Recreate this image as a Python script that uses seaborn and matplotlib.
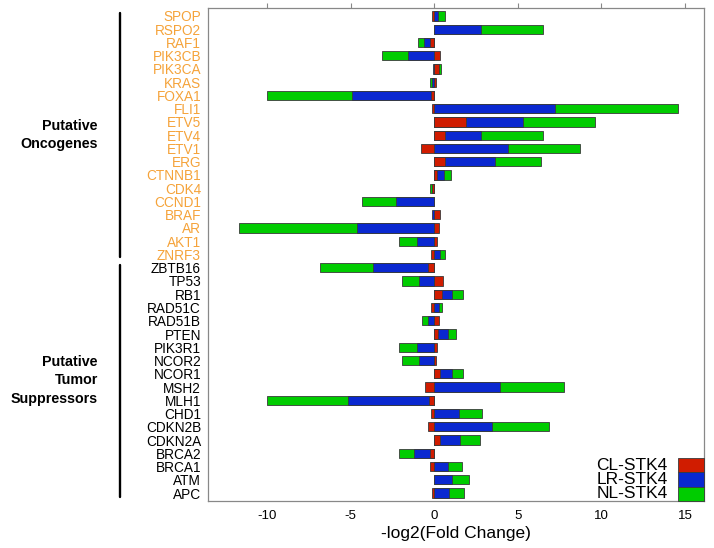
import numpy as np
import matplotlib
matplotlib.use("Agg")
import matplotlib.pyplot as plt
import matplotlib.transforms as mtransforms
from matplotlib.patches import Rectangle
import seaborn as sns

genes = ["SPOP", "RSPO2", "RAF1", "PIK3CB", "PIK3CA", "KRAS", "FOXA1", "FLI1", "ETV5", "ETV4",
         "ETV1", "ERG", "CTNNB1", "CDK4", "CCND1", "BRAF", "AR", "AKT1", "ZNRF3",
         "ZBTB16", "TP53", "RB1", "RAD51C", "RAD51B", "PTEN", "PIK3R1", "NCOR2", "NCOR1",
         "MSH2", "MLH1", "CHD1", "CDKN2B", "CDKN2A", "BRCA2", "BRCA1", "ATM", "APC"]
n_oncogenes = 19  # first 19 genes are putative oncogenes

cl_stk4 = [-0.12, 0, -0.24, 0.35, 0.3, 0.08, -0.17, -0.13, 1.89, 0.65, -0.76, 0.65, 0.15, -0.12,
           0, 0.33, 0.3, 0.17, -0.22, -0.39, 0.54, 0.48, -0.17, 0.28, 0.22, 0.15, 0.1, 0.33,
           -0.54, -0.3, -0.17, -0.39, 0.33, -0.24, -0.24, 0, -0.11]
lr_stk4 = [0.22, 2.83, -0.37, -1.54, -0.1, -0.15, -4.74, 7.22, 3.41, 2.15, 4.39, 2.98, 0.43, -0.03,
           -2.28, -0.13, -4.63, -1.0, 0.37, -3.24, -0.93, 0.61, 0.26, -0.35, 0.59, -1.04, -0.93, 0.76,
           3.91, -4.87, 1.48, 3.43, 1.2, -0.96, 0.85, 1.04, 0.91]
nl_stk4 = [0.4, 3.7, -0.37, -1.57, 0.08, -0.12, -5.11, 7.39, 4.3, 3.72, 4.35, 2.76, 0.43, -0.12,
           -2.02, 0, -7.04, -1.11, 0.26, -3.22, -1.0, 0.61, 0.22, -0.35, 0.5, -1.04, -0.98, 0.65,
           3.85, -4.83, 1.39, 3.41, 1.24, -0.93, 0.83, 1.04, 0.87]

series_names = ["CL-STK4", "LR-STK4", "NL-STK4"]
colors = ["#d01c00", "#0a28d0", "#00cc00"]
orange = "#f5a33a"

sns.set_style("white")
plt.rcParams['font.family'] = ['Liberation Sans', 'DejaVu Sans']
plt.rcParams['axes.unicode_minus'] = False
plt.rcParams['text.color'] = 'black'
plt.rcParams['axes.labelcolor'] = 'black'
plt.rcParams['xtick.labelcolor'] = 'black'

fig = plt.figure(figsize=(7.14, 5.48), dpi=100)
ax = fig.add_axes([0.2913, 0.0858, 0.6947, 0.8996])

# stacked bars, positive and negative parts stacked separately (overlay of cumulative sums)
vals = np.array([cl_stk4, lr_stk4, nl_stk4])
for sign in (1, -1):
    part = np.clip(vals * sign, 0, None)
    cum = np.cumsum(part, axis=0) * sign
    for i in (2, 1, 0):
        x = np.where(part[i] > 0, cum[i], np.nan)
        sns.barplot(x=x, y=genes, order=genes, orient="h", color=colors[i], width=0.7,
                    saturation=1, errorbar=None, edgecolor="#3a3a3a", linewidth=0.6, ax=ax)

ax.set_xlim(-13.53, 16.14)
ax.set_ylim(36.6, -0.6)
ax.set_xticks([-10, -5, 0, 5, 10, 15])
ax.set_ylabel("")
ax.set_xlabel("-log2(Fold Change)", fontsize=12.5, labelpad=3)
ax.tick_params(axis="x", top=True, direction="out", length=3.5, color="#888888",
               labelsize=9.5, pad=3)
ax.tick_params(axis="y", length=0, labelsize=9.8, pad=5)
for i, lab in enumerate(ax.get_yticklabels()):
    lab.set_color(orange if i < n_oncogenes else "black")
for sp in ax.spines.values():
    sp.set_visible(True)
    sp.set_color("#888888")
    sp.set_linewidth(0.9)

# group brackets and labels
trans = mtransforms.blended_transform_factory(fig.transFigure, ax.transData)
ax.plot([0.168, 0.168], [-0.23, 18.2], color="black", lw=1.7, transform=trans, clip_on=False)
ax.plot([0.168, 0.168], [18.8, 36.3], color="black", lw=1.7, transform=trans, clip_on=False)
ax.text(0.137, 9.0, "Putative\nOncogenes", transform=trans, ha="right", va="center",
        fontsize=10.3, fontweight="bold", linespacing=1.4)
ax.text(0.137, 27.5, "Putative\nTumor\nSuppressors", transform=trans, ha="right", va="center",
        fontsize=10.3, fontweight="bold", linespacing=1.4)

# legend: boxes at lower-right corner with labels on their left
bw, bh = 0.0524, 0.029
for k, name in enumerate(series_names):
    y0 = bh * (2 - k)
    ax.add_patch(Rectangle((1 - bw, y0), bw, bh, transform=ax.transAxes, facecolor=colors[k],
                           edgecolor="#3a3a3a", lw=0.6, clip_on=False, zorder=5))
    ax.text(0.927, y0 + bh / 2, name, transform=ax.transAxes, ha="right", va="center",
            fontsize=12.5, zorder=5)

fig.savefig("out.png", dpi=100)
